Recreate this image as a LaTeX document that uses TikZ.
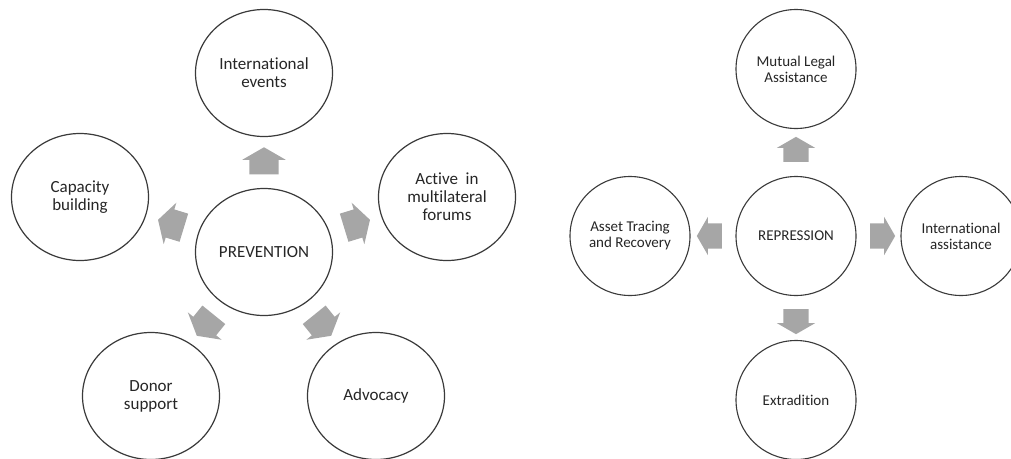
\documentclass[tikz,border=0pt]{standalone}
\usepackage{fontspec}
\setmainfont{Carlito}[Ligatures=NoCommon]
\usetikzlibrary{shapes.geometric,shapes.arrows}
\definecolor{ringline}{HTML}{3A3A3A}
\definecolor{arrowfill}{HTML}{A6A6A6}
\definecolor{labeltext}{HTML}{262626}
\tikzset{
  bigring/.style={ellipse, draw=ringline, line width=1.2pt, minimum width=137pt, minimum height=127pt,
    inner sep=0pt, align=center, text=labeltext, font=\fontsize{17}{18}\selectfont},
  smallring/.style={ellipse, draw=ringline, line width=1.1pt, minimum width=120pt, minimum height=119pt,
    inner sep=0pt, align=center, text=labeltext, font=\fontsize{15}{16}\selectfont},
  bigarrow/.style={single arrow, fill=arrowfill, draw=none, inner xsep=0pt, inner ysep=14.5pt,
    single arrow head extend=7pt, single arrow tip angle=120, minimum height=27pt},
  smallarrow/.style={single arrow, fill=arrowfill, draw=none, inner xsep=0pt, inner ysep=12.5pt,
    single arrow head extend=6.5pt, single arrow tip angle=120, minimum height=25pt}
}
\begin{document}
\begin{tikzpicture}[x=1pt,y=-1pt]
\useasboundingbox (0,0) rectangle (1011,458);
\fill[white] (0,0) rectangle (1011,458);

% prevention cluster
\node[bigring] (prev) at (264,252) {PREVENTION};
\node[bigring] (intev) at (264,73) {International\\events};
\node[bigring] (cap) at (80,197) {Capacity\\building};
\node[bigring] (act) at (447,197) {Active~~in\\multilateral\\forums};
\node[bigring] (donor) at (151,396) {Donor\\support};
\node[bigring] (adv) at (376,396) {Advocacy};

\node[bigarrow, rotate=90] (pa1) at (264,165) {};
\node[bigarrow, rotate=163] (pa2) at (175,225) {};
\node[bigarrow, rotate=17] (pa3) at (353,225) {};
\node[bigarrow, rotate=231] (pa4) at (208,322) {};
\node[bigarrow, rotate=309] (pa5) at (320,322) {};

% repression cluster
\node[smallring] (rep) at (796,236) {REPRESSION};
\node[smallring] (mla) at (796,69) {Mutual Legal\\Assistance};
\node[smallring] (asset) at (630,236) {Asset Tracing\\and Recovery};
\node[smallring] (intas) at (961,236) {International\\assistance};
\node[smallring] (extr) at (796,400) {Extradition};

\node[smallarrow, rotate=90] (ra1) at (796,153) {};
\node[smallarrow, rotate=180] (ra2) at (713,236) {};
\node[smallarrow, rotate=0] (ra3) at (879,236) {};
\node[smallarrow, rotate=270] (ra4) at (796,318) {};
\end{tikzpicture}
\end{document}
